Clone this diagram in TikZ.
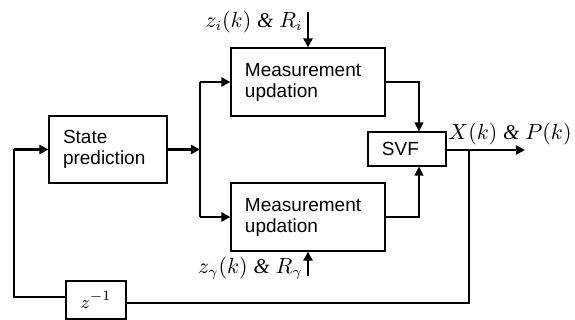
\documentclass[tikz,border=0pt]{standalone}
\usepackage{fontspec}
\setmainfont{Liberation Sans}
\newfontfamily\etfont{Liberation Serif}
\usetikzlibrary{arrows.meta, positioning, calc}
\tikzset{>={Triangle[length=4.5pt, width=4.5pt]}}
\newcommand{\andsign}{{\etfont\itshape\&}}

\begin{document}
\begin{tikzpicture}[
    x = 0.5pt, y = -0.5pt,
    blk/.style = {draw, line width = 0.6pt, align = left, inner xsep = 7pt, inner ysep = 0pt, font = \fontsize{9.5}{10.5}\selectfont},
    lbl/.style = {inner sep = 0pt, font = \fontsize{10.5}{12}\selectfont},
    d0/.style = {line width = 0.6pt},
    d1/.style = {line width = 1.2pt}
]
\useasboundingbox (0,0) rectangle (575,320);

% blocks
\node[blk, minimum height = 33.5pt, text width = 45pt] (pred) at (108,149.5) {State\\prediction};
\node[blk, minimum height = 34pt, text width = 63pt] (mup) at (308,82) {Measurement\\updation};
\node[blk, minimum height = 34pt, text width = 63pt] (mdn) at (308,217) {Measurement\\updation};
\node[blk, minimum height = 17pt, text width = 25pt] (svf) at (407,149) {SVF};
\node[blk, minimum height = 19pt, text width = 16pt, align = center] (delay) at (96,300) {$z^{-1}$};

% free ends
\coordinate (split) at (200,149.5);
\coordinate (zi) at (308,12);
\coordinate (zr) at (308,276);
\coordinate (out) at (525,150);
\coordinate (tap) at (469,150);
\coordinate (fb) at (14,297);

% inputs and labels
\draw[d1, ->] (zi) -- (mup.north);
\draw[d1, ->] (zr) -- (mdn.south);
\node[lbl, anchor = east] (lzi) at (303,22) {$z_{i}(k)$ \andsign{} $R_{i}$};
\node[lbl, anchor = east] (lzr) at (303,268) {$z_{\gamma}(k)$ \andsign{} $R_{\gamma}$};

% forward path
\draw[d1, ->] (pred.east) -- (split);
\draw[d1] (split |- mup.west) -- (split |- mdn.west);
\draw[d1, ->] (split |- mup.west) -- (mup.west);
\draw[d1, ->] (split |- mdn.west) -- (mdn.west);
\draw[d0, ->] (mup.east) -| ([xshift = 6pt]svf.north);
\draw[d0, ->] (mdn.east) -| ([xshift = 6pt]svf.south);
\draw[d1, ->] (svf.east |- out) -- (out);
\node[lbl, anchor = south] (lout) at (510,145) {$X(k)$ \andsign{} $P(k)$};

% feedback
\draw[d0] (tap) |- ([yshift = -1.5pt]delay.east);
\draw[d0] ([yshift = 1.5pt]delay.west) -- (fb) -- (fb |- pred.west);
\draw[d1, ->] (fb |- pred.west) -- (pred.west);

\end{tikzpicture}
\end{document}
